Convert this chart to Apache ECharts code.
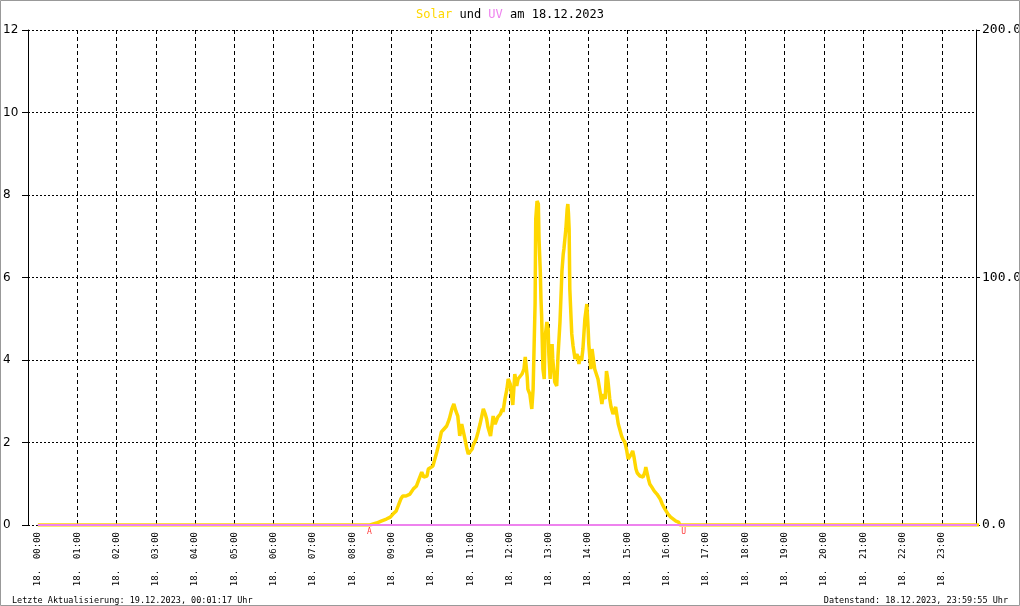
<!DOCTYPE html>
<html><head><meta charset="utf-8">
<script src="https://cdn.jsdelivr.net/npm/echarts@6/dist/echarts.min.js"></script>
<style>html,body{margin:0;padding:0;background:#fff}#c{width:1020px;height:606px}</style>
</head><body><div id="c"></div>
<script>
// ---- data ----
const chartDate = '18.12.2023';
const dayPrefix = '18.';
const hourTicks = ['00:00','01:00','02:00','03:00','04:00','05:00','06:00','07:00','08:00','09:00','10:00','11:00',
                   '12:00','13:00','14:00','15:00','16:00','17:00','18:00','19:00','20:00','21:00','22:00','23:00'];
// Solar (W/m², right axis)
const solarTimes = ['00:00','08:27','08:37','08:44','08:52','08:58','09:02','09:07','09:10','09:14','09:17','09:22','09:28','09:33','09:38','09:42','09:46','09:49','09:54','09:56','09:59',
 '10:03','10:06','10:09','10:12','10:16','10:20','10:24','10:28','10:32','10:35','10:38','10:41','10:44','10:47','10:49','10:52','10:55','10:57',
 '11:00','11:03','11:04','11:09','11:12','11:15','11:20','11:23','11:25','11:27','11:31','11:35','11:38','11:40','11:42','11:46','11:49','11:50','11:53','11:56','11:58',
 '12:01','12:05','12:08','12:11','12:13','12:16','12:19','12:22','12:24','12:27','12:28','12:31','12:34','12:36','12:39','12:40','12:42','12:44','12:45','12:47','12:48','12:49','12:51','12:53','12:54','12:57','12:59',
 '13:00','13:02','13:03','13:05','13:06','13:09','13:12','13:14','13:17','13:19','13:20','13:22','13:23','13:26','13:28','13:29','13:30','13:31','13:32','13:34','13:35','13:37','13:40','13:43','13:46','13:48','13:50','13:52','13:55','13:58',
 '14:00','14:01','14:04','14:06','14:07','14:10','14:15','14:18','14:21','14:23','14:26','14:28','14:30','14:33','14:35','14:38','14:42','14:46','14:49','14:51','14:53','14:56','14:59',
 '15:01','15:04','15:06','15:08','15:10','15:13','15:15','15:19','15:24','15:27','15:28','15:32','15:34','15:37','15:41','15:45','15:50','15:53','15:57',
 '16:02','16:06','16:10','16:14','16:18','16:20','23:59'];
const solarValues = [0,0,0.8,1.6,2.4,3.2,4.4,5.7,7.7,10.5,11.7,11.7,12.5,14.5,15.8,18.6,21.4,19.4,19.8,22.6,23.4,
 23.8,23.4,29.5,32.7,37.6,38.8,40.0,42.8,46.9,48.9,46.1,44.0,36.0,40.8,40.8,34.7,30.7,28.7,
 28.7,30.7,31.9,34.7,37.6,40.8,46.9,44.8,42.8,39.6,36.0,44.0,40.8,40.0,43.6,44.8,46.9,45.7,50.9,54.9,59.0,
 57.0,48.5,61.0,56.2,59.0,59.0,61.0,63.0,67.9,59.8,54.9,52.9,46.9,54.9,89.3,123.6,130.9,129.7,115.6,102.2,91.3,84.4,63.0,59.0,75.2,82.0,79.2,
 69.1,59.0,67.1,73.1,67.1,57.8,56.2,68.3,82.0,95.4,102.6,109.5,111.5,119.6,127.7,129.7,125.7,119.6,95.4,83.2,77.2,72.3,67.1,69.1,65.1,68.3,66.3,71.1,83.2,89.3,
 79.2,73.1,63.0,71.1,69.1,63.0,59.0,54.1,48.9,52.9,50.9,62.2,59.0,50.9,47.7,44.8,47.7,40.8,38.0,36.0,34.7,33.5,29.9,
 26.7,25.9,28.7,29.9,27.5,22.6,21.0,19.8,19.4,21.8,23.4,18.6,16.6,15.4,13.7,12.5,10.5,8.5,6.5,
 4.4,3.2,2.4,1.6,1.2,0,0];
// UV index (left axis)
const uvTimes = ['00:00','23:59'];
const uvValues = [0,0];
// sunrise (A) / sunset (U) markers
const sunNames = ['A','U'];
const sunTimes = ['08:26','16:26'];
const footerLeft = 'Letzte Aktualisierung: 19.12.2023, 00:01:17 Uhr';
const footerRight = 'Datenstand: 18.12.2023, 23:59:55 Uhr';

// ---- helpers ----
const toMin = s => (+s.slice(0,2))*60 + (+s.slice(3,5));
const pad = n => (n<10?'0':'')+n;
const MONO = 'DejaVu Sans Mono';

const chart = echarts.init(document.getElementById('c'), null, {renderer:'canvas'});
chart.setOption({
  animation:false,
  backgroundColor:'#fff',
  title:[
    {text:'{s|Solar} und {u|UV} am ' + chartDate, left:'center', top:4,
     textStyle:{fontFamily:MONO, fontSize:12, fontWeight:'normal', color:'#000',
       rich:{s:{color:'#FFD700', fontFamily:MONO, fontSize:12}, u:{color:'#EE82EE', fontFamily:MONO, fontSize:12}}}},
    {text:footerLeft, left:7, top:591, textStyle:{fontFamily:MONO, fontSize:8.5, fontWeight:'normal', color:'#000'}},
    {text:footerRight, right:7, top:591, textStyle:{fontFamily:MONO, fontSize:8.5, fontWeight:'normal', color:'#000'}}
  ],
  graphic:[{type:'rect', silent:true, z:100, shape:{x:0.5,y:0.5,width:1019,height:605}, style:{fill:null, stroke:'#999', lineWidth:1}}],
  grid:{left:28, right:44, top:30, bottom:81, containLabel:false, outerBoundsMode:'none'},
  xAxis:{type:'value', min:-15.1, max:1432.1,
    axisLine:{show:false, onZero:false},
    axisTick:{show:false, customValues:hourTicks.slice(1).map(toMin)},
    splitLine:{show:true, lineStyle:{color:'#000', width:1, type:[4,3]}},
    axisLabel:{customValues:hourTicks.map(toMin), rotate:90, margin:7, color:'#000', fontFamily:MONO, fontSize:9,
      formatter:v => dayPrefix + '  ' + pad(Math.floor(v/60)) + ':' + pad(v%60)}},
  yAxis:[
    {type:'value', min:0, max:12, interval:2, position:'left',
     axisLine:{show:true, onZero:false, lineStyle:{color:'#000', width:1}},
     axisTick:{show:true, length:6, lineStyle:{color:'#000'}},
     axisLabel:{margin:25, align:'left', color:'#000', fontFamily:'DejaVu Sans', fontSize:12},
     splitLine:{show:true, lineStyle:{color:'#000', width:1, type:[2,2]}}},
    {type:'value', min:0, max:200, interval:100, position:'right',
     axisLine:{show:true, onZero:false, lineStyle:{color:'#000', width:1}},
     axisTick:{show:true, length:4, lineStyle:{color:'#000'}},
     axisLabel:{margin:6, color:'#000', fontFamily:MONO, fontSize:13, formatter:v => v.toFixed(1)},
     splitLine:{show:false}}
  ],
  series:[
    {name:'Solar', type:'line', yAxisIndex:1, showSymbol:false, z:2, clip:true,
     lineStyle:{color:'#FFD700', width:3.5}, itemStyle:{color:'#FFD700'},
     data:solarTimes.map((t,i)=>[toMin(t), solarValues[i]])},
    {name:'UV', type:'line', yAxisIndex:0, showSymbol:false, zlevel:1, z:10, clip:true,
     lineStyle:{color:'#EE82EE', width:2}, itemStyle:{color:'#EE82EE'},
     data:uvTimes.map((t,i)=>[toMin(t), uvValues[i]])},
    {name:'Sonne', type:'scatter', yAxisIndex:0, symbolSize:1, zlevel:1, z:11, itemStyle:{color:'rgba(0,0,0,0)'},
     label:{show:true, position:'bottom', distance:2, formatter:'{b}', color:'#f00', fontFamily:MONO, fontSize:8},
     data:sunNames.map((n,i)=>({name:n, value:[toMin(sunTimes[i]), 0]}))}
  ]
});
</script></body></html>
